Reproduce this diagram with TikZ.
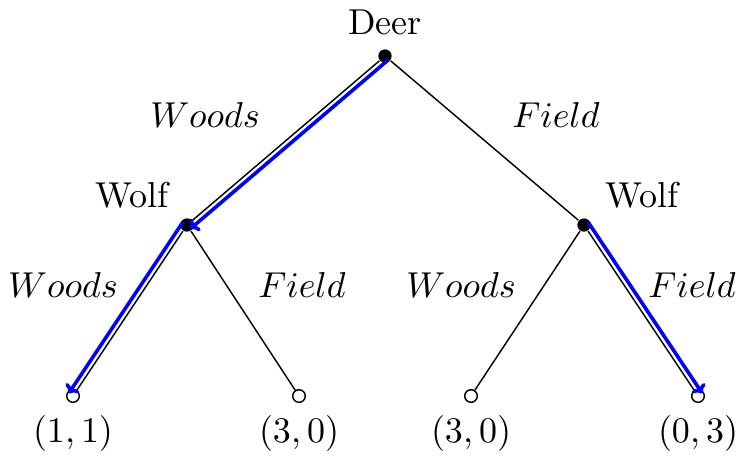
\documentclass[tikz,border=0pt]{standalone}
\usetikzlibrary{calc,arrows.meta}
\begin{document}
\begin{tikzpicture}[x=0.2778pt,y=-0.2778pt,
  decision/.style={circle,fill=black,inner sep=0pt,minimum size=3.7pt},
  leaf/.style={circle,draw=black,fill=white,line width=0.4pt,inner sep=0pt,minimum size=3.5pt},
  edge/.style={line width=0.4pt,black},
  choice/.style={blue,line width=1pt,-{To[length=2.2pt,width=4.4pt]}},
  lbl/.style={inner sep=0pt},
  elbl/.style={inner sep=0pt,font=\fontsize{9.6}{11}\selectfont}]
\useasboundingbox (0,0) rectangle (738,455);
\node[decision] (deer) at (385,56) {};
\node[decision] (w1) at (187,225) {};
\node[decision] (w2) at (584,225) {};
\node[leaf] (l1) at (73,396) {};
\node[leaf] (l2) at (299,396) {};
\node[leaf] (l3) at (471,396) {};
\node[leaf] (l4) at (698,396) {};
\draw[edge] (deer) -- (w1);
\draw[edge] (deer) -- (w2);
\draw[edge] (w1) -- (l1);
\draw[edge] (w1) -- (l2);
\draw[edge] (w2) -- (l3);
\draw[edge] (w2) -- (l4);
\draw[choice] ($(deer.center)!1.4pt!90:(w1.center)$) -- ($(w1.center)!1.4pt!-90:(deer.center)$);
\draw[choice] ($(w1.center)!1.4pt!-90:(l1.center)$) -- ($(l1.center)!1.4pt!90:(w1.center)$);
\draw[choice] ($(w2.center)!1.4pt!90:(l4.center)$) -- ($(l4.center)!1.4pt!-90:(w2.center)$);
\node[lbl] (tdeer) at (385,22) {Deer};
\node[lbl] (tw1) at (132,195) {Wolf};
\node[lbl] (tw2) at (642,195) {Wolf};
\node[elbl] (e1) at (205,115) {$Woods$};
\node[elbl] (e2) at (556,115) {$Field$};
\node[elbl] (e3) at (63,285) {$Woods$};
\node[elbl] (e4) at (302,285) {$Field$};
\node[elbl] (e5) at (461,285) {$Woods$};
\node[elbl] (e6) at (692,285) {$Field$};
\node[lbl] (p1) at (73,433) {$(1,1)$};
\node[lbl] (p2) at (299,433) {$(3,0)$};
\node[lbl] (p3) at (471,433) {$(3,0)$};
\node[lbl] (p4) at (698,433) {$(0,3)$};
\end{tikzpicture}
\end{document}
